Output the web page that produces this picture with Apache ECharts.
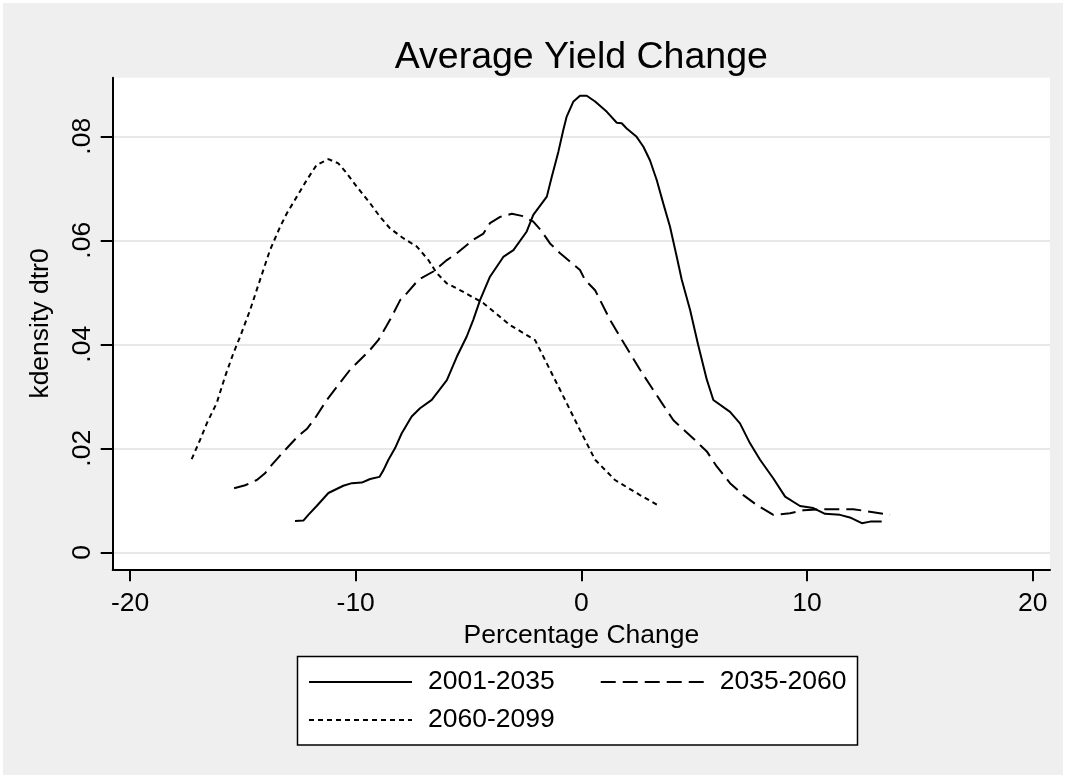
<!DOCTYPE html>
<html>
<head>
<meta charset="utf-8">
<script src="https://cdn.jsdelivr.net/npm/echarts@6/dist/echarts.min.js"></script>
<style>
html,body{margin:0;padding:0;background:#ffffff;}
#chart{width:1066px;height:778px;}
</style>
</head>
<body>
<div id="chart"></div>
<script>
var seriesNames = ['2001-2035', '2035-2060', '2060-2099'];
var xTicks = [-20, -10, 0, 10, 20];
var yTicks = [0, 0.02, 0.04, 0.06, 0.08];

var solid2001 = [[-12.69,0.0060],[-12.32,0.0061],[-12.10,0.0072],[-11.73,0.0089],[-11.21,0.0114],[-10.55,0.0128],[-10.17,0.0133],[-9.73,0.0134],[-9.36,0.0141],[-8.95,0.0145],[-8.77,0.0158],[-8.55,0.0178],[-8.26,0.0200],[-7.96,0.0229],[-7.52,0.0261],[-7.15,0.0277],[-6.63,0.0293],[-5.96,0.0331],[-5.52,0.0376],[-5.08,0.0415],[-4.79,0.0447],[-4.49,0.0485],[-4.05,0.0530],[-3.46,0.0568],[-3.01,0.0581],[-2.42,0.0617],[-2.13,0.0649],[-1.53,0.0684],[-1.31,0.0722],[-1.02,0.0770],[-0.80,0.0812],[-0.65,0.0838],[-0.35,0.0867],[-0.06,0.0878],[0.24,0.0878],[0.61,0.0867],[1.13,0.0847],[1.57,0.0826],[1.79,0.0825],[2.01,0.0815],[2.45,0.0799],[2.75,0.0780],[3.04,0.0754],[3.34,0.0716],[3.63,0.0671],[3.93,0.0626],[4.23,0.0568],[4.45,0.0524],[4.82,0.0466],[5.17,0.0400],[5.56,0.0332],[5.85,0.0293],[6.59,0.0270],[7.03,0.0248],[7.47,0.0210],[7.92,0.0178],[8.51,0.0142],[9.03,0.0107],[9.69,0.0089],[10.28,0.0085],[10.80,0.0074],[11.46,0.0072],[11.90,0.0067],[12.43,0.0056],[12.80,0.0059],[13.31,0.0059]];

var dashed2035 = [[-15.39,0.0123],[-14.90,0.0129],[-14.38,0.0139],[-14.02,0.0152],[-13.72,0.0168],[-13.21,0.0193],[-12.54,0.0224],[-12.17,0.0237],[-11.80,0.0258],[-11.28,0.0293],[-10.84,0.0318],[-10.25,0.0351],[-9.37,0.0389],[-9.00,0.0408],[-8.48,0.0447],[-8.03,0.0485],[-7.74,0.0498],[-7.22,0.0524],[-6.56,0.0540],[-5.96,0.0562],[-5.52,0.0575],[-4.79,0.0601],[-4.34,0.0613],[-4.05,0.0633],[-3.60,0.0645],[-3.08,0.0651],[-2.64,0.0647],[-2.13,0.0636],[-1.75,0.0617],[-1.39,0.0594],[-0.94,0.0575],[-0.50,0.0559],[-0.06,0.0543],[0.16,0.0524],[0.61,0.0504],[1.27,0.0447],[1.93,0.0399],[2.60,0.0351],[3.19,0.0312],[3.63,0.0283],[4.08,0.0254],[4.96,0.0219],[5.56,0.0194],[6.00,0.0165],[6.59,0.0133],[7.18,0.0110],[7.77,0.0091],[8.51,0.0072],[9.25,0.0075],[9.84,0.0081],[10.87,0.0083],[12.05,0.0083],[12.79,0.0078],[13.68,0.0072]];

var dotted2060 = [[-17.27,0.0179],[-16.90,0.0216],[-16.60,0.0248],[-16.16,0.0287],[-15.79,0.0338],[-15.42,0.0383],[-15.12,0.0415],[-14.68,0.0466],[-14.24,0.0524],[-13.80,0.0581],[-13.35,0.0626],[-13.05,0.0652],[-12.61,0.0684],[-12.17,0.0716],[-11.73,0.0745],[-11.21,0.0756],[-10.77,0.0748],[-10.40,0.0729],[-9.95,0.0703],[-9.36,0.0671],[-8.92,0.0645],[-8.48,0.0623],[-7.89,0.0604],[-7.29,0.0588],[-6.78,0.0562],[-6.41,0.0537],[-5.96,0.0517],[-5.23,0.0501],[-4.34,0.0479],[-3.16,0.0437],[-2.05,0.0408],[-1.39,0.0351],[-0.72,0.0293],[-0.06,0.0235],[0.61,0.0178],[1.49,0.0139],[2.60,0.0110],[3.49,0.0088]];

var FONT = '"Liberation Sans", Arial, sans-serif';
var chart = echarts.init(document.getElementById('chart'), null, {renderer: 'canvas'});

function yFmt(v) {
  if (Math.abs(v) < 1e-9) return '0';
  return String(+v.toFixed(2)).replace(/^0\./, '.');
}

var lineBase = {type: 'line', showSymbol: false, symbol: 'none', smooth: false, silent: true, animation: false};

var legendCommon = {
  padding: 0, orient: 'horizontal',
  itemWidth: 103, itemHeight: 1, itemGap: 45, selectedMode: false,
  itemStyle: {opacity: 0, borderWidth: 0},
  textStyle: {fontFamily: FONT, fontSize: 26.5, color: '#000', padding: [0, 0, 0, 11], lineHeight: 30}
};

var option = {
  backgroundColor: '#ffffff',
  animation: false,
  graphic: [
    {type: 'rect', z: -10, silent: true, shape: {x: 3, y: 3, width: 1060, height: 772}, style: {fill: '#efefef'}},
    {type: 'rect', z: 1, silent: true, shape: {x: 297.5, y: 656.5, width: 560, height: 88.5}, style: {fill: '#ffffff', stroke: '#000', lineWidth: 1.5}}
  ],
  title: {
    text: 'Average Yield Change',
    left: 581.3, top: 58, textAlign: 'center', textVerticalAlign: 'middle', padding: 0,
    textStyle: {fontFamily: FONT, fontSize: 37.5, fontWeight: 'normal', color: '#000'}
  },
  legend: [
    Object.assign({}, legendCommon, {data: [seriesNames[0], seriesNames[1]], left: 308, top: 667}),
    Object.assign({}, legendCommon, {data: [seriesNames[2]], left: 308, top: 705})
  ],
  grid: {
    left: 112.7, right: 16, top: 77.7, bottom: 208.7,
    show: true, backgroundColor: '#ffffff', borderWidth: 0, containLabel: false
  },
  xAxis: {
    type: 'value', min: -20.77, max: 20.77,
    name: 'Percentage Change', nameLocation: 'middle', nameGap: 44,
    nameTextStyle: {fontFamily: FONT, fontSize: 26.5, color: '#000'},
    axisLine: {show: true, onZero: false, lineStyle: {color: '#000', width: 2}},
    axisTick: {show: true, length: 12, customValues: xTicks, lineStyle: {color: '#000', width: 2}},
    axisLabel: {customValues: xTicks, margin: 21, fontFamily: FONT, fontSize: 26.5, color: '#000'},
    splitLine: {show: false}
  },
  yAxis: {
    type: 'value', min: -0.00327, max: 0.09127,
    name: 'kdensity dtr0', nameLocation: 'middle', nameGap: 59,
    nameTextStyle: {fontFamily: FONT, fontSize: 26.5, color: '#000'},
    axisLine: {show: true, onZero: false, lineStyle: {color: '#000', width: 2}},
    axisTick: {show: true, length: 12, customValues: yTicks, lineStyle: {color: '#000', width: 2}},
    axisLabel: {customValues: yTicks, rotate: 90, margin: 17, fontFamily: FONT, fontSize: 26.5, color: '#000', formatter: yFmt},
    splitLine: {show: true, lineStyle: {color: '#e8e8e8', width: 2}}
  },
  series: [
    Object.assign({}, lineBase, {name: seriesNames[0], data: solid2001, z: 5,
      lineStyle: {color: '#000', width: 2, type: 'solid'}, itemStyle: {color: '#000'}}),
    Object.assign({}, lineBase, {name: seriesNames[1], data: dashed2035, z: 4,
      lineStyle: {color: '#000', width: 2, type: [15, 7]}, itemStyle: {color: '#000'}}),
    Object.assign({}, lineBase, {name: seriesNames[2], data: dotted2060, z: 3,
      lineStyle: {color: '#000', width: 2, type: [5, 4]}, itemStyle: {color: '#000'}})
  ]
};
chart.setOption(option);
</script>
</body>
</html>
